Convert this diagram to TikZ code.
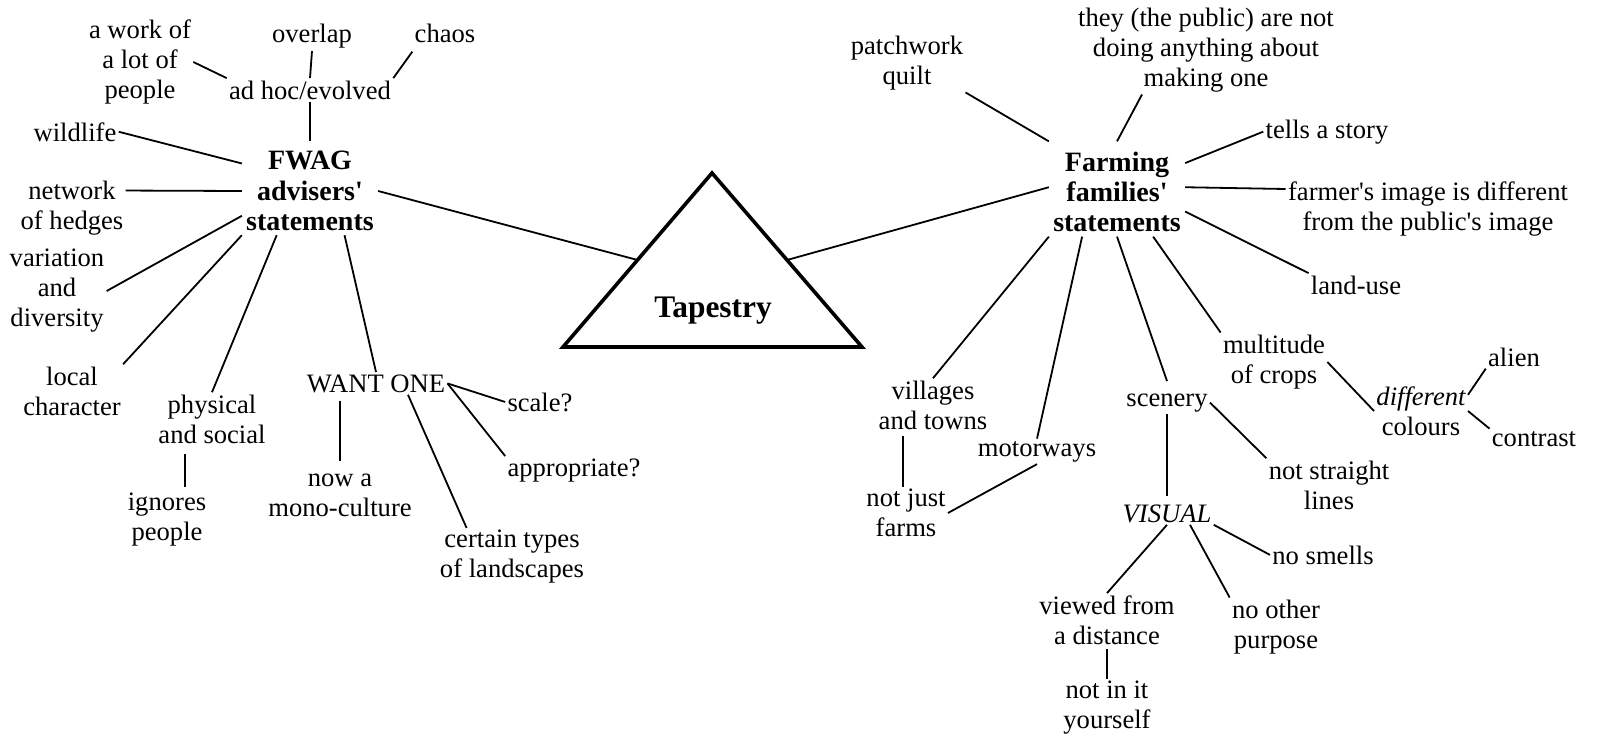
\documentclass[tikz,border=0pt]{standalone}
\usepackage{fontspec}
\setmainfont{Liberation Serif}
\usetikzlibrary{calc}
\begin{document}
\begin{tikzpicture}[x=0.5pt,y=-0.5pt,
  leaf/.style={font=\fontsize{13.3}{15}\selectfont, align=center, inner sep=1pt},
  hub/.style={font=\fontsize{14}{15.2}\selectfont\bfseries, align=center, inner sep=2pt},
  link/.style={line width=0.9pt},
  frame/.style={line width=1.8pt, line join=miter}]
\useasboundingbox (0,0) rectangle (1599,733);

% ---------- central triangle ----------
\coordinate (tA) at (712,173);
\coordinate (tL) at (563,347);
\coordinate (tR) at (862,347);
\draw[frame] (tA) -- (tL) -- (tR) -- cycle;
\coordinate (tML) at ($(tA)!0.5!(tL)$);
\coordinate (tMR) at ($(tA)!0.5!(tR)$);
\node[font=\fontsize{15.7}{18}\selectfont\bfseries, anchor=base] (tap) at (713,317) {Tapestry};

% ---------- advisers' side ----------
\node[hub] (fwag) at (310,191) {FWAG\\advisers\textquotesingle\\statements};
\node[leaf] (work) at (140,62) {a work of\\a lot of\\people};
\node[leaf, anchor=base] (overlap) at (312,43) {overlap};
\node[leaf, anchor=base] (chaos) at (445,43) {chaos};
\node[leaf, anchor=base] (adhoc) at (310,99) {ad hoc/evolved};
\node[leaf, anchor=base] (wild) at (75,141) {wildlife};
\node[leaf] (net) at (72,208) {network\\of hedges};
\node[leaf] (var) at (57,291) {variation\\and\\diversity};
\node[leaf] (local) at (72,391) {local\\character};
\node[leaf] (phys) at (212,419) {physical\\and social};
\node[leaf] (ignore) at (167,520) {ignores\\people};
\node[leaf, anchor=base] (want) at (376,392) {WANT ONE};
\node[leaf] (mono) at (340,495) {now a\\mono-culture};
\node[leaf, anchor=base] (scale) at (540,411) {scale?};
\node[leaf, anchor=base] (approp) at (574,476) {appropriate?};
\node[leaf] (certain) at (512,557) {certain types\\of landscapes};

\draw[link] (work.east) -- (adhoc.north west);
\draw[link] (overlap.south) -- (adhoc.north);
\draw[link] ([yshift=-3pt]chaos.south west) -- (adhoc.north east);
\draw[link] (adhoc.south) -- ([yshift=3pt]fwag.north);
\draw[link] (wild.east) -- (fwag.158);
\draw[link] (net.18) -- (fwag.west);
\draw[link] (var.east) -- (fwag.200);
\draw[link] (local.north east) -- (fwag.south west);
\draw[link] (phys.north) -- (fwag.233);
\draw[link] (want.north) -- (fwag.308);
\draw[link] (fwag.east) -- (tML);
\draw[link, shorten <=4pt, shorten >=2pt] ([xshift=-13.5pt]phys.south) -- ([xshift=9pt]ignore.north);
\draw[link, shorten <=3pt] ([xshift=-18pt]want.south) -- ([yshift=5pt]mono.north);
\draw[link] (want.east) -- (scale.west);
\draw[link] (want.east) -- (approp.north west);
\draw[link] ([xshift=16pt]want.south) -- ([xshift=14.5pt]certain.north west);

% ---------- farming families' side ----------
\node[hub] (ffg) at (1117,192) {Farming\\families\textquotesingle\\statements};
\node[leaf] (patch) at (907,63) {patchwork\\quilt};
\node[leaf] (they) at (1206,50) {they (the public) are not\\doing anything about\\making one};
\node[leaf, anchor=base] (tells) at (1327,138) {tells a story};
\node[leaf] (farmer) at (1428,209) {farmer\textquotesingle s image is different\\from the public\textquotesingle s image};
\node[leaf, anchor=base] (land) at (1356,294) {land-use};
\node[leaf] (vill) at (933,405) {villages\\and towns};
\node[leaf] (notjust) at (906,513) {not just\\farms};
\node[leaf, anchor=base] (motor) at (1037,456) {motorways};
\node[leaf, anchor=base] (scen) at (1167,406) {scenery};
\node[leaf] (straight) at (1329,485) {not straight\\lines};
\node[leaf, anchor=base] (visual) at (1167,522) {\itshape VISUAL};
\node[leaf, anchor=base] (smells) at (1323,564) {no smells};
\node[leaf] (viewed) at (1107,620) {viewed from\\a distance};
\node[leaf] (other) at (1276,627) {no other\\purpose};
\node[leaf] (notin) at (1107,708) {not in it\\yourself};
\node[leaf] (mult) at (1274,362) {multitude\\of crops};
\node[leaf] (diff) at (1421,411) {\itshape different\\colours};
\node[leaf, anchor=base] (alien) at (1514,366) {alien};
\node[leaf, anchor=base] (contrast) at (1534,446) {contrast};

\draw[link] (patch.south east) -- ([yshift=3pt]ffg.north west);
\draw[link] ([xshift=-32pt]they.south) -- ([yshift=3pt]ffg.north);
\draw[link] (ffg.23) -- (tells.west);
\draw[link] (ffg.4) -- (farmer.172);
\draw[link] (ffg.-16) -- (land.north west);
\draw[link] (ffg.176) -- (tMR);
\draw[link] (ffg.south west) -- (vill.north);
\draw[link] (ffg.232) -- (motor.north);
\draw[link] (ffg.south) -- ([yshift=5pt]scen.north);
\draw[link] (ffg.309) -- (mult.north west);
\draw[link, shorten <=2pt] ([xshift=-15pt]vill.south) -- ([xshift=-1.5pt]notjust.north);
\draw[link] (motor.south) -- (notjust.east);
\draw[link] (scen.east) -- (straight.north west);
\draw[link] (scen.south) -- ([yshift=3pt]visual.north);
\draw[link] (visual.south east) -- (smells.west);
\draw[link] (visual.south) -- (viewed.north);
\draw[link] ([xshift=11.5pt]visual.south) -- (other.north west);
\draw[link, shorten <=1pt] (viewed.south) -- (notin.north);
\draw[link] (mult.east) -- (diff.west);
\draw[link] (diff.19) -- (alien.south west);
\draw[link] (diff.east) -- (contrast.north west);
\end{tikzpicture}
\end{document}
